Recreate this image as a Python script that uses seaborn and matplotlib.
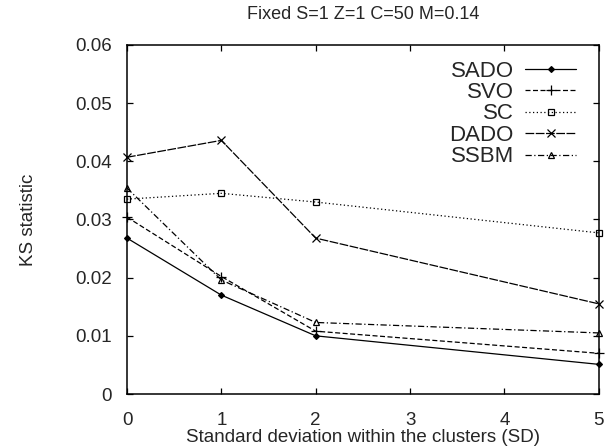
import matplotlib
matplotlib.use("Agg")
import matplotlib.pyplot as plt
import seaborn as sns
import pandas as pd
from matplotlib.ticker import FuncFormatter, MultipleLocator

sd = [0, 1, 2, 5]
sado = [0.0268, 0.0170, 0.0100, 0.0051]
svo = [0.0304, 0.0202, 0.0108, 0.0070]
sc = [0.0335, 0.0345, 0.0330, 0.0277]
dado = [0.0407, 0.0436, 0.0268, 0.0155]
ssbm = [0.0354, 0.0196, 0.0123, 0.0105]

names = ["SADO", "SVO", "SC", "DADO", "SSBM"]
values = [sado, svo, sc, dado, ssbm]

df = pd.DataFrame(
    [(n, x, v) for n, vals in zip(names, values) for x, v in zip(sd, vals)],
    columns=["method", "sd", "ks"],
)

sns.set_theme(style="ticks")
plt.rcParams["font.family"] = ["Liberation Sans", "DejaVu Sans"]

fig = plt.figure(figsize=(6.06, 4.48), dpi=100)
ax = fig.add_axes([0.2096, 0.1205, 0.7784, 0.7791])

markers = {"SADO": "D", "SVO": "+", "SC": "s", "DADO": "x", "SSBM": "^"}
dashes = {
    "SADO": "",
    "SVO": (4, 2),
    "SC": (1, 2),
    "DADO": (7, 1.2),
    "SSBM": (5, 2, 1, 2),
}
msize = {"SADO": 3, "SVO": 7, "SC": 5, "DADO": 6, "SSBM": 5}

for n in names:
    sub = df[df["method"] == n]
    sns.lineplot(
        data=sub, x="sd", y="ks", ax=ax, color="black", linewidth=0.9,
        marker=markers[n], markersize=msize[n],
        markerfacecolor="none" if n in ("SC", "SSBM") else "black",
        markeredgecolor="black", markeredgewidth=0.9,
        label=n, legend=False, clip_on=False,
    )
    line = ax.lines[-1]
    if dashes[n]:
        line.set_dashes(dashes[n])
    else:
        line.set_linestyle("-")

ax.set_xlim(0, 5)
ax.set_ylim(0, 0.06)
ax.xaxis.set_major_locator(MultipleLocator(1))
ax.yaxis.set_major_locator(MultipleLocator(0.01))
ax.yaxis.set_major_formatter(FuncFormatter(lambda v, p: "0" if abs(v) < 1e-9 else f"{v:.2f}"))

ax.tick_params(axis="both", direction="in", length=4.5, width=0.9, top=True, right=True,
               bottom=True, left=True, labelsize=13.5, color="black")
ax.tick_params(axis="y", pad=11)
ax.tick_params(axis="x", pad=13)
for s in ax.spines.values():
    s.set_visible(True)
    s.set_color("black")
    s.set_linewidth(1.1)
    s.set_zorder(5)

ax.set_title("Fixed S=1 Z=1 C=50 M=0.14", fontsize=13, pad=19)
ax.set_xlabel("Standard deviation within the clusters (SD)", fontsize=13.5, labelpad=0)
ax.set_ylabel("KS statistic", fontsize=13.5, labelpad=27)

leg = ax.legend(handles=ax.lines[:5], labels=names, loc="upper right",
                frameon=False, markerfirst=False, fontsize=16,
                handlelength=2.3, handletextpad=0.5, labelspacing=0.02,
                borderaxespad=0.3, bbox_to_anchor=(0.985, 1.0))
leg._legend_box.align = "right"

fig.savefig("out.png", dpi=100)
